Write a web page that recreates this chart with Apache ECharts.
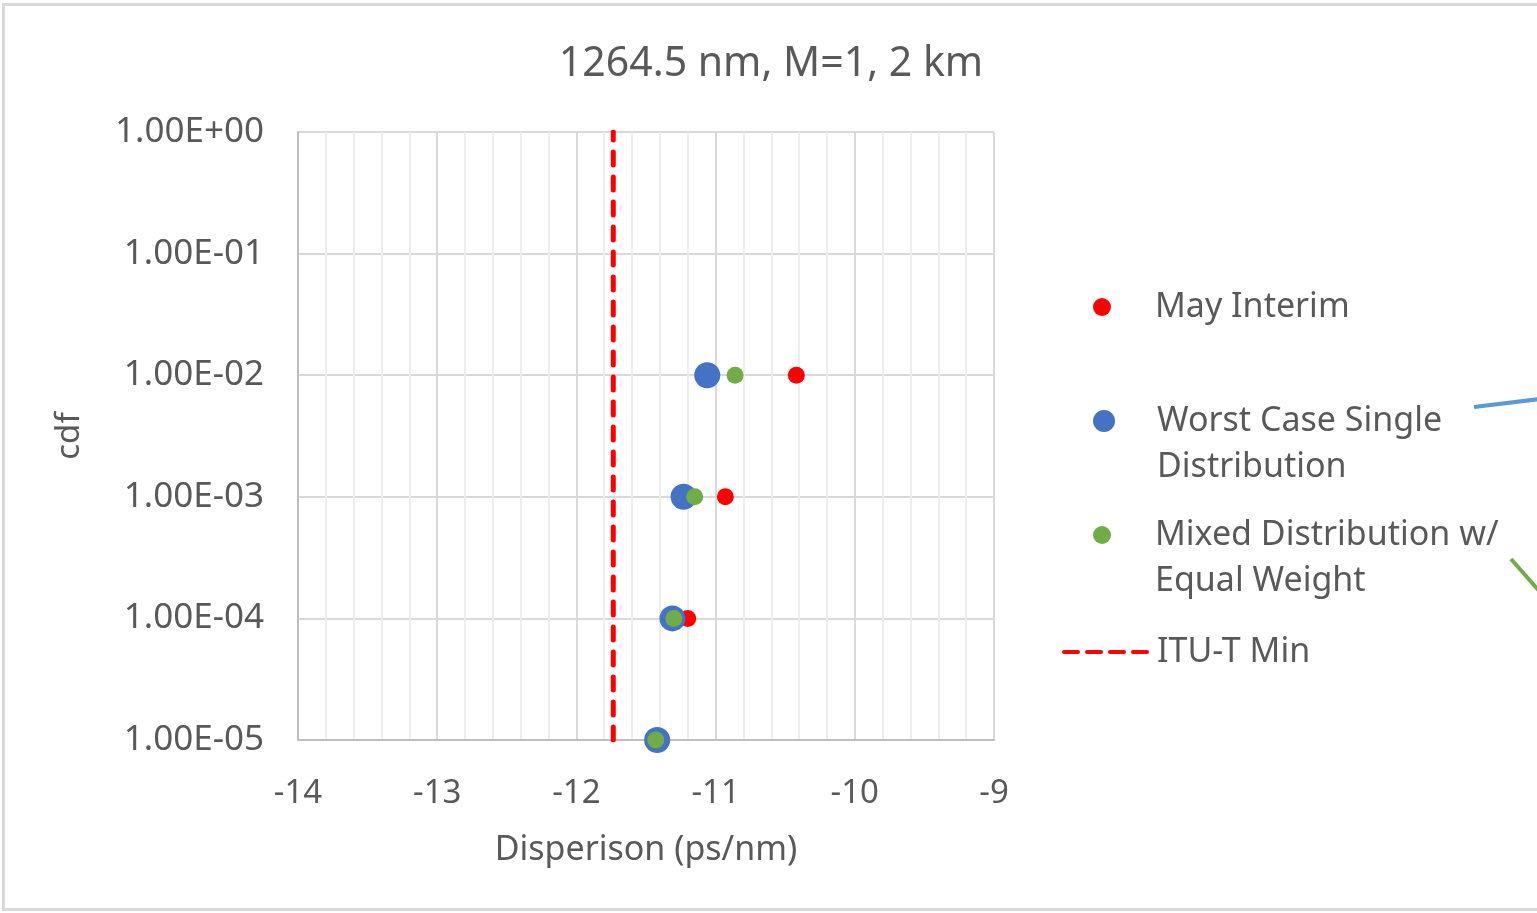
<!DOCTYPE html>
<html>
<head>
<meta charset="utf-8">
<script src="https://cdn.jsdelivr.net/npm/echarts@6/dist/echarts.min.js"></script>
<style>
  html, body { margin: 0; padding: 0; background: #fff; }
  #chart { width: 1537px; height: 913px; }
</style>
</head>
<body>
<div id="chart"></div>
<script>
// cdf levels (y) shared by all series
const cdfLevels = [1e-2, 1e-3, 1e-4, 1e-5];
// dispersion values (ps/nm)
const mayInterim = [-10.42, -10.93, -11.20, -11.39];
const worstCaseSingle = [-11.06, -11.23, -11.31, -11.42];
const mixedEqualWeight = [-10.86, -11.15, -11.30, -11.43];
// ITU-T minimum, drawn as a vertical dashed line across the cdf range
const ituMin = -11.735;
const ituSpan = [1e-5, 1];

const xTicks = [-14, -13, -12, -11, -10, -9];
const yTickLabels = ['1.00E-05', '1.00E-04', '1.00E-03', '1.00E-02', '1.00E-01', '1.00E+00'];

const textColor = '#595959';
const font = 'Noto Sans';

const pair = (xs) => xs.map((x, i) => [x, cdfLevels[i]]);

const chart = echarts.init(document.getElementById('chart'));

const legendText = (padLeft) => ({
  color: textColor, fontFamily: font, fontSize: 34, lineHeight: 46, padding: [0, 0, 0, padLeft]
});
// a blank first line keeps the marker level with the first line of two-line names
const topAligned = (name) => ' \n' + name;

const option = {
  backgroundColor: '#fff',
  animation: false,
  title: {
    text: '1264.5 nm, M=1, 2 km',
    left: 766,
    top: 39,
    textAlign: 'center',
    textStyle: { color: textColor, fontFamily: font, fontSize: 41, fontWeight: 'normal' }
  },
  grid: { left: 298, right: 543, top: 132, bottom: 173 },
  xAxis: {
    type: 'value',
    min: xTicks[0],
    max: xTicks[xTicks.length - 1],
    interval: 1,
    name: 'Disperison (ps/nm)',
    nameLocation: 'middle',
    nameGap: 93,
    nameTextStyle: { color: textColor, fontFamily: font, fontSize: 34 },
    axisLine: { show: true, lineStyle: { color: '#bfbfbf', width: 2 } },
    axisTick: { show: false },
    axisLabel: { color: textColor, fontFamily: font, fontSize: 33, margin: 37 },
    splitLine: { show: true, lineStyle: { color: '#d9d9d9', width: 2 } },
    minorTick: { show: false, splitNumber: 5 },
    minorSplitLine: { show: true, lineStyle: { color: '#eeeeee', width: 2 } }
  },
  yAxis: {
    type: 'log',
    logBase: 10,
    min: 1e-5,
    max: 1,
    name: 'cdf',
    nameLocation: 'middle',
    nameGap: 212,
    nameTextStyle: { color: textColor, fontFamily: font, fontSize: 33 },
    axisLine: { show: true, lineStyle: { color: '#bfbfbf', width: 2 } },
    axisTick: { show: false },
    axisLabel: {
      color: textColor, fontFamily: font, fontSize: 35, margin: 34,
      formatter: (v) => yTickLabels[Math.round(Math.log10(v)) + 5]
    },
    splitLine: { show: true, lineStyle: { color: '#d9d9d9', width: 2 } }
  },
  legend: [
    { data: ['May Interim'], left: 1088, top: 279, itemWidth: 22, itemHeight: 18, textStyle: legendText(37) },
    { data: ['Worst Case Single\nDistribution'], left: 1088, top: 347, itemWidth: 22, itemHeight: 26, formatter: topAligned, textStyle: legendText(37) },
    { data: ['Mixed Distribution w/\nEqual Weight'], left: 1088, top: 461, itemWidth: 22, itemHeight: 18, formatter: topAligned, textStyle: legendText(37) },
    {
      data: [{ name: 'ITU-T Min', itemStyle: { opacity: 0 } }],
      left: 1057, top: 624, itemWidth: 86, itemHeight: 4,
      lineStyle: { width: 4, type: [14, 9], cap: 'round' },
      textStyle: legendText(2)
    }
  ].map((l) => Object.assign({ orient: 'vertical', itemGap: 0, selectedMode: false }, l)),
  series: [
    {
      name: 'May Interim',
      type: 'scatter',
      data: pair(mayInterim),
      symbolSize: 17,
      itemStyle: { color: '#ff0000', opacity: 1 },
      z: 3
    },
    {
      name: 'Worst Case Single\nDistribution',
      type: 'scatter',
      data: pair(worstCaseSingle),
      symbolSize: 26,
      itemStyle: { color: '#4472c4', opacity: 1 },
      z: 4
    },
    {
      name: 'Mixed Distribution w/\nEqual Weight',
      type: 'scatter',
      data: pair(mixedEqualWeight),
      symbolSize: 17,
      itemStyle: { color: '#70ad47', opacity: 1 },
      z: 5
    },
    {
      name: 'ITU-T Min',
      type: 'line',
      data: ituSpan.map((y) => [ituMin, y]),
      symbol: 'none',
      lineStyle: { color: '#ff0000', width: 5, type: [13, 12], cap: 'round' },
      itemStyle: { color: '#ff0000' },
      z: 2
    }
  ],
  graphic: [
    {
      type: 'rect',
      shape: { x: 3.5, y: 4.5, width: 1600, height: 905 },
      style: { fill: 'none', stroke: '#d9d9d9', lineWidth: 3 },
      silent: true
    },
    {
      type: 'line',
      shape: { x1: 1474, y1: 407, x2: 1540, y2: 399 },
      style: { stroke: '#5b9bd5', lineWidth: 4 },
      silent: true
    },
    {
      type: 'line',
      shape: { x1: 1511, y1: 559, x2: 1540, y2: 592 },
      style: { stroke: '#70ad47', lineWidth: 4 },
      silent: true
    }
  ]
};

chart.setOption(option);
window.addEventListener('resize', () => chart.resize());
</script>
</body>
</html>
